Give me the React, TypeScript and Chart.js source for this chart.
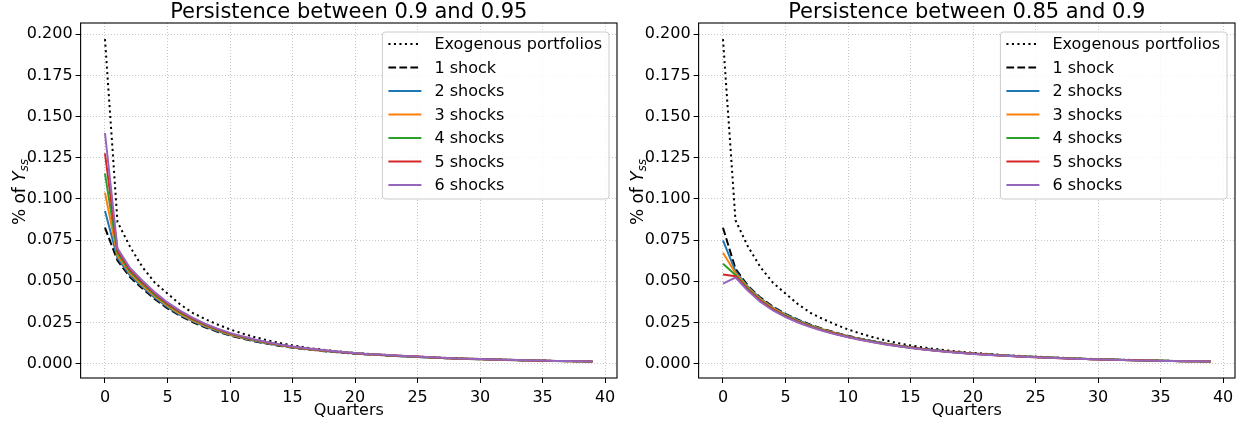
import React, { useEffect, useRef } from "react";
import { Chart, registerables } from "chart.js";

Chart.register(...registerables);

const FONT = '"DejaVu Sans", "Liberation Sans", sans-serif';

// ---------------- data ----------------
const quarters = [
  0, 1, 2, 3, 4, 5, 6, 7, 8, 9, 10, 11, 12, 13, 14, 15, 16, 17, 18, 19,
  20, 21, 22, 23, 24, 25, 26, 27, 28, 29, 30, 31, 32, 33, 34, 35, 36, 37, 38, 39,
];

const xTickValues = [0, 5, 10, 15, 20, 25, 30, 35, 40];
const xTickLabels = ["0", "5", "10", "15", "20", "25", "30", "35", "40"];
const yTickValues = [0, 0.025, 0.05, 0.075, 0.1, 0.125, 0.15, 0.175, 0.2];
const yTickLabels = ["0.000", "0.025", "0.050", "0.075", "0.100", "0.125", "0.150", "0.175", "0.200"];

const seriesLabels = ["Exogenous portfolios", "1 shock", "2 shocks", "3 shocks", "4 shocks", "5 shocks", "6 shocks"];
const panelTitles = ["Persistence between 0.9 and 0.95", "Persistence between 0.85 and 0.9"];
const xAxisLabel = "Quarters";

// Left panel: persistence 0.9 - 0.95
const exoHigh = [0.197, 0.086, 0.071, 0.0585, 0.049, 0.0425, 0.036, 0.0308, 0.027, 0.0237, 0.0207, 0.0182, 0.016, 0.0141, 0.0124, 0.011, 0.0098, 0.0088, 0.0079, 0.0071, 0.0065, 0.0059, 0.0054, 0.0049, 0.0045, 0.0042, 0.0038, 0.0035, 0.0032, 0.0029, 0.0027, 0.0025, 0.0023, 0.0021, 0.0019, 0.0018, 0.0016, 0.0015, 0.0014, 0.0012];
const shock1High = [0.0825, 0.0625, 0.0525, 0.0455, 0.039, 0.0335, 0.029, 0.0252, 0.022, 0.0193, 0.017, 0.0151, 0.0134, 0.012, 0.0107, 0.0096, 0.0087, 0.0079, 0.0072, 0.0066, 0.006, 0.0055, 0.0051, 0.0047, 0.0043, 0.004, 0.0036, 0.0033, 0.003, 0.0028, 0.0026, 0.0024, 0.0022, 0.002, 0.0018, 0.0017, 0.0015, 0.0014, 0.0013, 0.0012];
const shock2High = [0.0926, 0.064, 0.0536, 0.0465, 0.0398, 0.0342, 0.0296, 0.0257, 0.0224, 0.0197, 0.0173, 0.0154, 0.0136, 0.0122, 0.0109, 0.0098, 0.0088, 0.008, 0.0073, 0.0067, 0.0061, 0.0056, 0.0052, 0.0047, 0.0043, 0.004, 0.0036, 0.0033, 0.003, 0.0028, 0.0026, 0.0024, 0.0022, 0.002, 0.0018, 0.0017, 0.0015, 0.0014, 0.0013, 0.0012];
const shock3High = [0.1038, 0.0655, 0.0547, 0.0474, 0.0407, 0.0349, 0.0302, 0.0262, 0.0229, 0.0201, 0.0176, 0.0157, 0.0139, 0.0124, 0.0111, 0.0099, 0.009, 0.0081, 0.0074, 0.0068, 0.0062, 0.0056, 0.0052, 0.0048, 0.0044, 0.0041, 0.0037, 0.0034, 0.003, 0.0028, 0.0026, 0.0024, 0.0022, 0.002, 0.0018, 0.0017, 0.0015, 0.0014, 0.0013, 0.0012];
const shock4High = [0.1154, 0.067, 0.0558, 0.0484, 0.0415, 0.0357, 0.0309, 0.0268, 0.0233, 0.0204, 0.018, 0.0159, 0.0141, 0.0126, 0.0112, 0.0101, 0.0091, 0.0083, 0.0075, 0.0068, 0.0062, 0.0057, 0.0053, 0.0049, 0.0044, 0.0041, 0.0037, 0.0034, 0.0031, 0.0029, 0.0027, 0.0025, 0.0023, 0.0021, 0.0019, 0.0017, 0.0016, 0.0015, 0.0013, 0.0012];
const shock5High = [0.1276, 0.0685, 0.0569, 0.0493, 0.0424, 0.0364, 0.0315, 0.0273, 0.0238, 0.0208, 0.0183, 0.0162, 0.0144, 0.0128, 0.0114, 0.0102, 0.0093, 0.0084, 0.0076, 0.0069, 0.0063, 0.0057, 0.0053, 0.0049, 0.0045, 0.0042, 0.0038, 0.0034, 0.0031, 0.0029, 0.0027, 0.0025, 0.0023, 0.0021, 0.0019, 0.0017, 0.0016, 0.0015, 0.0013, 0.0012];
const shock6High = [0.14, 0.07, 0.058, 0.0503, 0.0432, 0.0371, 0.0321, 0.0278, 0.0242, 0.0212, 0.0186, 0.0165, 0.0146, 0.013, 0.0116, 0.0104, 0.0094, 0.0085, 0.0077, 0.007, 0.0064, 0.0058, 0.0054, 0.005, 0.0045, 0.0042, 0.0038, 0.0035, 0.0031, 0.0029, 0.0027, 0.0025, 0.0023, 0.0021, 0.0019, 0.0018, 0.0016, 0.0015, 0.0014, 0.0012];

// Right panel: persistence 0.85 - 0.9
const exoLow = [0.197, 0.087, 0.071, 0.0585, 0.049, 0.0425, 0.036, 0.0308, 0.027, 0.0237, 0.0207, 0.0182, 0.016, 0.0141, 0.0124, 0.011, 0.0098, 0.0088, 0.0079, 0.0071, 0.0065, 0.0059, 0.0054, 0.0049, 0.0045, 0.0042, 0.0038, 0.0035, 0.0032, 0.0029, 0.0027, 0.0025, 0.0023, 0.0021, 0.0019, 0.0018, 0.0016, 0.0015, 0.0014, 0.0012];
const shock1Low = [0.0825, 0.0575, 0.0472, 0.04, 0.0345, 0.0302, 0.0266, 0.0236, 0.021, 0.0188, 0.0168, 0.0151, 0.0136, 0.0122, 0.011, 0.0099, 0.0089, 0.0081, 0.0073, 0.0067, 0.0061, 0.0056, 0.0051, 0.0047, 0.0043, 0.004, 0.0036, 0.0033, 0.003, 0.0028, 0.0026, 0.0024, 0.0022, 0.002, 0.0018, 0.0017, 0.0015, 0.0014, 0.0013, 0.0012];
const shock2Low = [0.0748, 0.056, 0.0466, 0.0395, 0.034, 0.0298, 0.0263, 0.0233, 0.0207, 0.0186, 0.0166, 0.0149, 0.0135, 0.0121, 0.0109, 0.0098, 0.0088, 0.008, 0.0072, 0.0066, 0.006, 0.0055, 0.0051, 0.0047, 0.0043, 0.004, 0.0036, 0.0033, 0.003, 0.0028, 0.0026, 0.0024, 0.0022, 0.002, 0.0018, 0.0017, 0.0015, 0.0014, 0.0013, 0.0012];
const shock3Low = [0.0673, 0.0548, 0.046, 0.039, 0.0336, 0.0294, 0.0259, 0.023, 0.0205, 0.0184, 0.0164, 0.0148, 0.0133, 0.012, 0.0108, 0.0097, 0.0087, 0.0079, 0.0072, 0.0066, 0.006, 0.0055, 0.005, 0.0046, 0.0042, 0.0039, 0.0036, 0.0033, 0.003, 0.0028, 0.0026, 0.0024, 0.0022, 0.002, 0.0018, 0.0017, 0.0015, 0.0014, 0.0013, 0.0012];
const shock4Low = [0.0606, 0.0538, 0.0454, 0.0384, 0.0331, 0.029, 0.0256, 0.0227, 0.0202, 0.0181, 0.0163, 0.0146, 0.0132, 0.0118, 0.0107, 0.0096, 0.0087, 0.0079, 0.0071, 0.0065, 0.0059, 0.0054, 0.005, 0.0046, 0.0042, 0.0039, 0.0036, 0.0033, 0.003, 0.0028, 0.0026, 0.0024, 0.0022, 0.002, 0.0018, 0.0017, 0.0015, 0.0014, 0.0013, 0.0012];
const shock5Low = [0.0541, 0.053, 0.0448, 0.0379, 0.0327, 0.0286, 0.0252, 0.0224, 0.02, 0.0179, 0.0161, 0.0145, 0.013, 0.0117, 0.0106, 0.0095, 0.0086, 0.0078, 0.0071, 0.0065, 0.0059, 0.0054, 0.0049, 0.0045, 0.0041, 0.0038, 0.0035, 0.0032, 0.0029, 0.0027, 0.0025, 0.0023, 0.0021, 0.002, 0.0018, 0.0016, 0.0015, 0.0014, 0.0013, 0.0012];
const shock6Low = [0.0485, 0.0522, 0.0442, 0.0374, 0.0322, 0.0282, 0.0249, 0.0221, 0.0197, 0.0177, 0.0159, 0.0143, 0.0129, 0.0116, 0.0105, 0.0094, 0.0085, 0.0077, 0.007, 0.0064, 0.0058, 0.0053, 0.0049, 0.0045, 0.0041, 0.0038, 0.0035, 0.0032, 0.0029, 0.0027, 0.0025, 0.0023, 0.0021, 0.0019, 0.0018, 0.0016, 0.0015, 0.0014, 0.0013, 0.0012];

// ---------------- styles ----------------
const seriesColors = ["#000000", "#000000", "#1f77b4", "#ff7f0e", "#2ca02c", "#d62728", "#9467bd"];
const seriesDashes: number[][] = [[2.1, 3.4], [7.7, 3.3], [], [], [], [], []];

const CANVAS_W = 621;
const CANVAS_H = 421;
const AREA_TOP = 23;
const AREA_BOTTOM = 378;

type PanelProps = {
  title: string;
  series: number[][];
  left: number;
  areaLeft: number;
  areaRight: number;
};

function Panel({ title, series, left, areaLeft, areaRight }: PanelProps) {
  const ref = useRef<HTMLCanvasElement | null>(null);

  useEffect(() => {
    const canvas = ref.current;
    if (!canvas) return;

    const deco = {
      id: "deco",
      afterDraw(chart: any) {
        const { ctx, chartArea: a } = chart;
        ctx.save();
        // frame
        ctx.setLineDash([]);
        ctx.strokeStyle = "#000";
        ctx.lineWidth = 1.1;
        ctx.strokeRect(a.left, a.top, a.right - a.left, a.bottom - a.top);

        // title
        ctx.fillStyle = "#000";
        ctx.font = `21px ${FONT}`;
        ctx.textAlign = "center";
        ctx.textBaseline = "alphabetic";
        ctx.fillText(title, (a.left + a.right) / 2, 18);

        // x label
        ctx.font = `16px ${FONT}`;
        ctx.fillText(xAxisLabel, (a.left + a.right) / 2, 415);

        // y label: "% of Y_ss"
        ctx.save();
        ctx.translate(a.left - 56, 192);
        ctx.rotate(-Math.PI / 2);
        ctx.textAlign = "left";
        const p1 = "% of ";
        const p2 = "Y";
        const p3 = "ss";
        ctx.font = `17px ${FONT}`;
        const w1 = ctx.measureText(p1).width;
        ctx.font = `italic 17px ${FONT}`;
        const w2 = ctx.measureText(p2).width;
        ctx.font = `italic 12px ${FONT}`;
        const w3 = ctx.measureText(p3).width;
        const total = w1 + w2 + w3;
        let x0 = -total / 2;
        ctx.font = `17px ${FONT}`;
        ctx.fillText(p1, x0, 0);
        x0 += w1;
        ctx.font = `italic 17px ${FONT}`;
        ctx.fillText(p2, x0, 0);
        x0 += w2;
        ctx.font = `italic 12px ${FONT}`;
        ctx.fillText(p3, x0, 3.5);
        ctx.restore();

        // legend
        ctx.font = `16px ${FONT}`;
        let maxW = 0;
        seriesLabels.forEach((l) => {
          maxW = Math.max(maxW, ctx.measureText(l).width);
        });
        const boxRight = a.right - 8;
        const boxLeft = boxRight - (52 + maxW + 7);
        const boxTop = a.top + 9;
        const boxH = 167;
        ctx.beginPath();
        if ((ctx as any).roundRect) {
          (ctx as any).roundRect(boxLeft, boxTop, boxRight - boxLeft, boxH, 3);
        } else {
          ctx.rect(boxLeft, boxTop, boxRight - boxLeft, boxH);
        }
        ctx.fillStyle = "rgba(255,255,255,0.8)";
        ctx.fill();
        ctx.strokeStyle = "#cccccc";
        ctx.lineWidth = 1;
        ctx.stroke();

        seriesLabels.forEach((l, i) => {
          const cy = boxTop + 12 + i * 23.5;
          ctx.beginPath();
          ctx.setLineDash(seriesDashes[i]);
          ctx.strokeStyle = seriesColors[i];
          ctx.lineWidth = 2;
          ctx.moveTo(boxLeft + 6, cy);
          ctx.lineTo(boxLeft + 39, cy);
          ctx.stroke();
          ctx.setLineDash([]);
          ctx.fillStyle = "#000";
          ctx.textAlign = "left";
          ctx.textBaseline = "middle";
          ctx.fillText(l, boxLeft + 52, cy + 1);
        });
        ctx.restore();
      },
    };

    const datasets = seriesLabels.map((label, i) => ({
      label,
      data: quarters.map((q, j) => ({ x: q, y: series[i][j] })),
      borderColor: seriesColors[i],
      backgroundColor: seriesColors[i],
      borderWidth: 2,
      borderDash: seriesDashes[i],
      pointRadius: 0,
      fill: false,
      tension: 0,
      order: seriesLabels.length - i,
    }));

    const gridColor = "#c8c8c8";

    const chart = new Chart(canvas, {
      type: "line",
      data: { datasets },
      options: {
        responsive: false,
        animation: false,
        devicePixelRatio: 1,
        layout: {
          padding: { left: 0, top: AREA_TOP, right: CANVAS_W - areaRight, bottom: 0 },
        },
        plugins: {
          legend: { display: false },
          tooltip: { enabled: false },
          title: { display: false },
        },
        scales: {
          x: {
            type: "linear",
            min: -1.95,
            max: 40.95,
            afterBuildTicks: (s: any) => {
              s.ticks = xTickValues.map((v) => ({ value: v }));
            },
            afterFit: (s: any) => {
              s.height = CANVAS_H - AREA_BOTTOM;
            },
            ticks: {
              autoSkip: false,
              maxRotation: 0,
              color: "#000",
              padding: 5,
              font: { family: FONT, size: 16 },
              callback: (_v: any, i: number) => xTickLabels[i],
            },
            grid: {
              color: gridColor,
              lineWidth: 1,
              tickColor: "#000",
              tickLength: 5,
              tickWidth: 1,
            },
            border: { display: false, dash: [1, 2] },
          },
          y: {
            type: "linear",
            min: -0.0088,
            max: 0.2068,
            afterBuildTicks: (s: any) => {
              s.ticks = yTickValues.map((v) => ({ value: v }));
            },
            afterFit: (s: any) => {
              s.width = areaLeft;
            },
            ticks: {
              autoSkip: false,
              color: "#000",
              padding: 3,
              font: { family: FONT, size: 16 },
              callback: (_v: any, i: number) => yTickLabels[i],
            },
            grid: {
              color: gridColor,
              lineWidth: 1,
              tickColor: "#000",
              tickLength: 5,
              tickWidth: 1,
            },
            border: { display: false, dash: [1, 2] },
          },
        },
      },
      plugins: [deco],
    } as any);

    return () => chart.destroy();
  }, [title, series, areaLeft, areaRight]);

  return (
    <canvas
      ref={ref}
      width={CANVAS_W}
      height={CANVAS_H}
      style={{ position: "absolute", left, top: 0, width: CANVAS_W, height: CANVAS_H }}
    />
  );
}

const highSeries = [exoHigh, shock1High, shock2High, shock3High, shock4High, shock5High, shock6High];
const lowSeries = [exoLow, shock1Low, shock2Low, shock3Low, shock4Low, shock5Low, shock6Low];

export default function App() {
  return (
    <div style={{ position: "absolute", left: 0, top: 0, width: 1242, height: 421, background: "#fff" }}>
      <Panel title={panelTitles[0]} series={highSeries} left={0} areaLeft={80.6} areaRight={617} />
      <Panel title={panelTitles[1]} series={lowSeries} left={621} areaLeft={77.6} areaRight={614} />
    </div>
  );
}
